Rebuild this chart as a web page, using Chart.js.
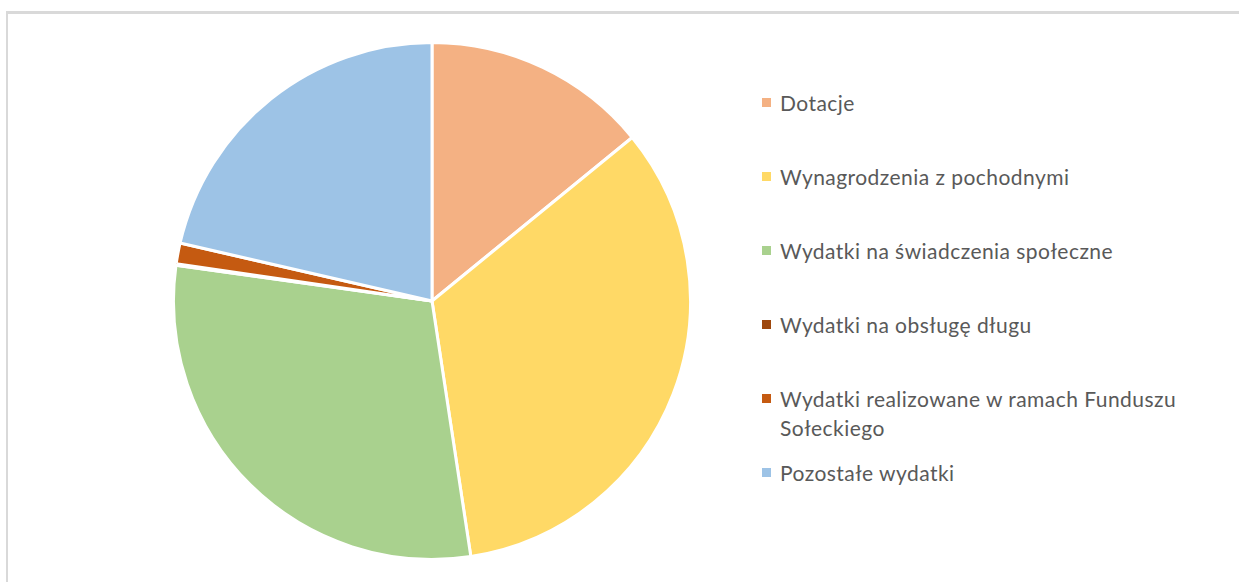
<!DOCTYPE html>
<html>
<head>
<meta charset="utf-8">
<script src="https://cdn.jsdelivr.net/npm/chart.js@4"></script>
<style>
  html, body { margin: 0; padding: 0; background: #fff; width: 1239px; height: 582px; overflow: hidden; }
  #ramka { position: absolute; left: 6px; top: 11px; width: 1250px; height: 600px;
           border-left: 2px solid #d9d9d9; border-top: 3px solid #d9d9d9; }
  #wykres { position: absolute; left: 172px; top: 41px; width: 520px; height: 520px; }
  #legenda { position: absolute; left: 762px; top: 0; font-family: Lato, "Open Sans", sans-serif;
             font-size: 21px; letter-spacing: 0.45px; color: #595959; }
  .poz { position: absolute; left: 0; width: 460px; line-height: 29px; }
  .kw { position: absolute; left: 0; top: 10px; width: 9px; height: 9px; }
  .tx { position: absolute; left: 18px; white-space: nowrap; }
</style>
</head>
<body>
<div id="ramka"></div>
<div id="wykres"><canvas id="kolo"></canvas></div>
<div id="legenda"></div>
<script>
let etykiety = [
    'Dotacje',
    'Wynagrodzenia z pochodnymi',
    'Wydatki na świadczenia społeczne',
    'Wydatki na obsługę długu',
    ['Wydatki realizowane w ramach Funduszu', 'Sołeckiego'],
    'Pozostałe wydatki'
];
let wartosci = [14.1, 33.5, 29.6, 0.1, 1.3, 21.4];
let kolory = ['#f4b183', '#ffd966', '#a9d18e', '#9e480e', '#c55a11', '#9dc3e6'];
let pozycjeLegendy = [88, 162, 236, 310, 384, 458];

function rysujKolo() {
    const ctx = document.getElementById('kolo').getContext('2d');

    const data = {
        labels: etykiety.map(e => Array.isArray(e) ? e.join(' ') : e),
        datasets: [{
            data: wartosci,
            backgroundColor: kolory,
            borderColor: '#ffffff',
            borderWidth: 3,
        }]
    };

    const config = {
        type: 'pie',
        data: data,
        options: {
            responsive: true,
            maintainAspectRatio: false,
            animation: false,
            layout: { padding: 0 },
            plugins: {
                legend: { display: false },
                tooltip: { enabled: false }
            }
        }
    };

    new Chart(ctx, config);
}

function rysujLegende() {
    const leg = document.getElementById('legenda');
    etykiety.forEach((e, i) => {
        const poz = document.createElement('div');
        poz.className = 'poz';
        poz.style.top = pozycjeLegendy[i] + 'px';
        const kw = document.createElement('div');
        kw.className = 'kw';
        kw.style.background = kolory[i];
        const tx = document.createElement('div');
        tx.className = 'tx';
        tx.innerHTML = (Array.isArray(e) ? e : [e]).join('<br>');
        poz.appendChild(kw);
        poz.appendChild(tx);
        leg.appendChild(poz);
    });
}

rysujKolo();
rysujLegende();
</script>
</body>
</html>
